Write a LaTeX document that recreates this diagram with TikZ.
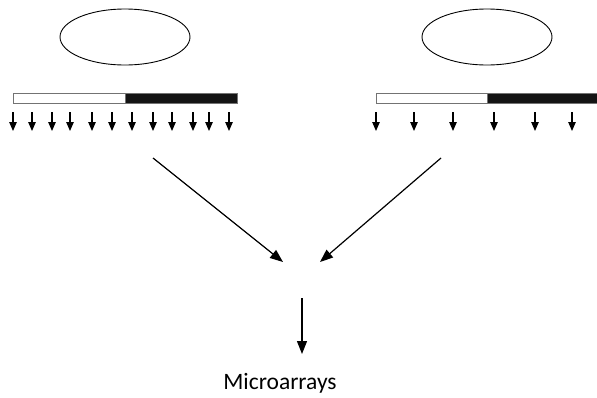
\documentclass[tikz,border=0pt]{standalone}
\usepackage{fontspec}
\setmainfont{Carlito}
\usetikzlibrary{positioning,arrows.meta,shapes.geometric}

\tikzset{
	probe/.style={ellipse,draw,line width=0.9pt,minimum width=130pt,minimum height=56pt,inner sep=0pt},
	barbox/.style={draw=black!55,line width=0.8pt},
	cut/.style={-{Triangle[width=7.5pt,length=9pt]},line width=1.1pt},
	flow/.style={-{Triangle[width=10pt,length=13pt]},line width=1.2pt}
}

\begin{document}
\begin{tikzpicture}[x=1pt,y=-1pt]
	\useasboundingbox (0,0) rectangle (597,397);

	% Left probe
	\node[probe] (probeL) at (125,37) {};
	\fill[black!92] (125,93) rectangle (237,103);
	\draw[barbox] (13,93) rectangle (125,103);
	\draw[barbox] (125,93) rectangle (237,103);
	\foreach \x in {13,32,52,70,92,112,132,153,172,193,209,229}
		\draw[cut] (\x,112) -- (\x,131);

	% Right probe
	\node[probe] (probeR) at (487,37) {};
	\fill[black!92] (487,93) rectangle (598,103);
	\draw[barbox] (376,93) rectangle (487,103);
	\draw[barbox] (487,93) -- (598,93) (487,103) -- (598,103);
	\foreach \x in {376,414,453,494,535,572}
		\draw[cut] (\x,112) -- (\x,131);

	% Merge
	\coordinate (fromL) at (153,158);
	\coordinate (fromR) at (441,158);
	\coordinate (joinL) at (283,262);
	\coordinate (joinR) at (320,262);
	\coordinate (down) at (302,298);
	\node[font=\fontsize{23.5}{28}\selectfont,inner sep=0pt] (micro) at (280,383) {Microarrays};

	\draw[flow] (fromL) -- (joinL);
	\draw[flow] (fromR) -- (joinR);
	\draw[flow] (down) -- (down |- 0,354);

\end{tikzpicture}
\end{document}
